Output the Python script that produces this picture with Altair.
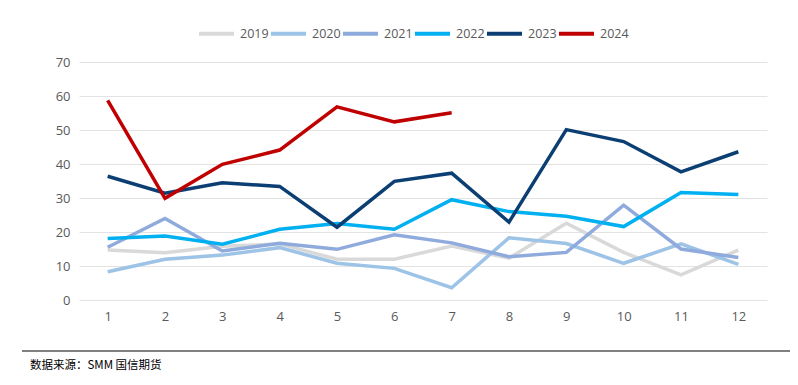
import altair as alt
import pandas as pd

months = list(range(1, 13))
years = ["2019", "2020", "2021", "2022", "2023", "2024"]
colors = ["#d9d9d9", "#9dc3e6", "#8faadc", "#00b0f0", "#0b3f73", "#c00000"]

v2019 = [14.7, 13.9, 15.8, 16.5, 12.0, 12.0, 15.9, 12.3, 22.6, 14.0, 7.4, 14.7]
v2020 = [8.3, 12.0, 13.2, 15.4, 10.8, 9.3, 3.6, 18.3, 16.6, 10.8, 16.5, 10.5]
v2021 = [15.5, 24.0, 14.4, 16.7, 14.9, 19.2, 16.8, 12.7, 14.0, 27.9, 15.0, 12.5]
v2022 = [18.1, 18.8, 16.4, 20.8, 22.5, 20.8, 29.5, 26.0, 24.6, 21.6, 31.6, 31.0]
v2023 = [36.4, 31.4, 34.5, 33.4, 21.4, 34.9, 37.3, 22.9, 50.1, 46.6, 37.7, 43.6]
v2024 = [58.7, 29.9, 39.9, 44.1, 56.8, 52.4, 55.1]

series = [v2019, v2020, v2021, v2022, v2023, v2024]
rows = []
for yr, vals in zip(years, series):
    for m, v in zip(months, vals):
        rows.append({"month": m, "year": yr, "value": v, "order": years.index(yr)})
df = pd.DataFrame(rows)

FONT = "Open Sans"

lines = alt.Chart(df).mark_line(strokeWidth=3.5, strokeJoin="miter", strokeCap="butt").encode(
    x=alt.X("month:O", scale=alt.Scale(type="point", padding=0.5),
            axis=alt.Axis(title=None, labelAngle=0, domain=False, ticks=False, grid=False,
                          labelPadding=10, labelFontSize=13, labelColor="#595959", labelFont=FONT)),
    y=alt.Y("value:Q", scale=alt.Scale(domain=[0, 70], nice=False),
            axis=alt.Axis(title=None, values=[0, 10, 20, 30, 40, 50, 60, 70], domain=False, ticks=False,
                          gridColor="#e3e3e3", gridWidth=1.2, labelPadding=9, labelFontSize=13,
                          labelColor="#595959", labelFont=FONT)),
    color=alt.Color("year:N", scale=alt.Scale(domain=years, range=colors),
                    legend=alt.Legend(title=None, orient="none", direction="horizontal",
                                      legendX=118, legendY=-48, symbolType="stroke",
                                      symbolSize=1225, symbolStrokeWidth=4, labelFontSize=12.5,
                                      labelColor="#595959", labelFont=FONT, columnPadding=-7,
                                      labelOffset=4)),
    order="order:Q",
)

rule_df = pd.DataFrame({"a": [0]})
footer_line = alt.Chart(rule_df).mark_rule(color="#000000", strokeWidth=1).encode(
    x=alt.value(-57), x2=alt.value(711), y=alt.value(289)
)
footer_text = alt.Chart(rule_df).mark_text(
    text="数据来源：SMM 国信期货", align="left", baseline="middle", fontSize=11.5,
    font="Noto Sans CJK SC", color="#000000"
).encode(x=alt.value(-49), y=alt.value(304))

chart = alt.layer(lines, footer_line, footer_text).properties(
    width=688, height=238,
    autosize=alt.AutoSizeParams(type="none"),
    padding={"left": 71, "top": 54, "right": 23, "bottom": 72},
).configure_view(stroke=None)

chart.save("out.html", embed_options={"renderer": "svg", "actions": False})
